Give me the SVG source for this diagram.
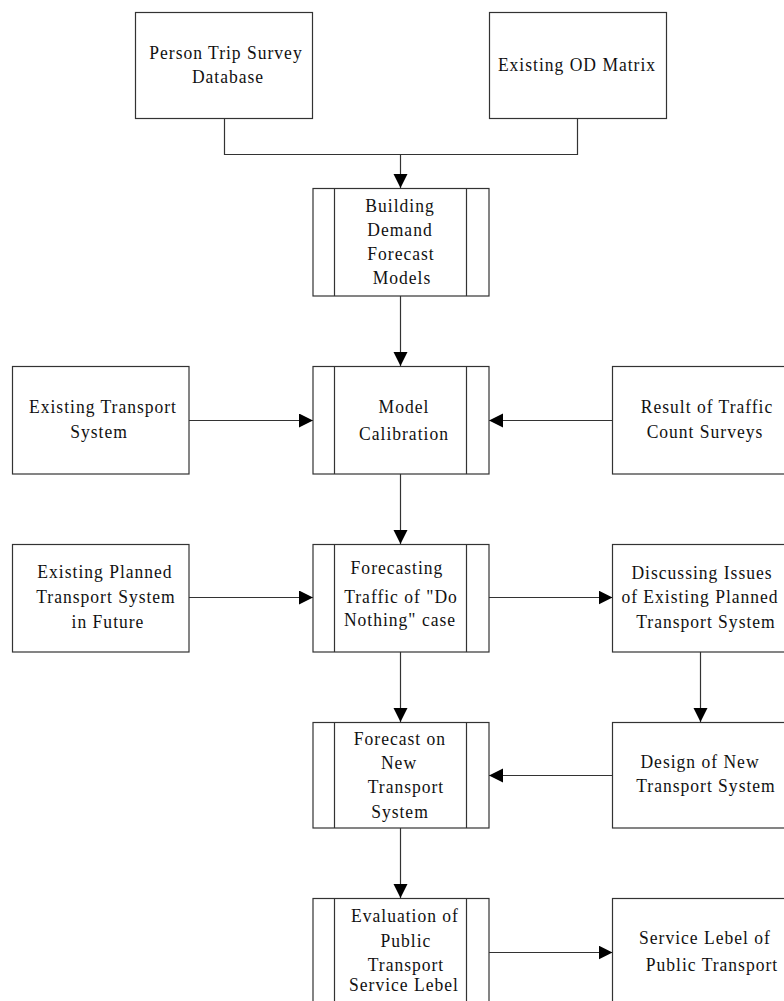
<svg xmlns="http://www.w3.org/2000/svg" width="784" height="1001" viewBox="0 0 784 1001">
<defs>
<style>
.box{fill:#fff;stroke:#333;stroke-width:1.2}
.ln{fill:none;stroke:#333;stroke-width:1.2}
.t{font-family:"Liberation Serif","Times New Roman",serif;font-size:19.5px;letter-spacing:1.1px;fill:#111;text-anchor:middle;transform-box:fill-box;transform-origin:center;transform:scaleX(0.9)}
</style>
<marker id="ah" markerUnits="userSpaceOnUse" markerWidth="15" markerHeight="15" refX="14" refY="7" orient="auto">
<path d="M0,0 L14,7 L0,14 z" fill="#000"/>
</marker>
</defs>
<rect width="784" height="1001" fill="#fff"/>

<g id="connectors">
<path class="ln" d="M224.5,118 V154.5 H577.5 V118"/>
<path class="ln" d="M400.5,154.5 V188" marker-end="url(#ah)"/>
<path class="ln" d="M400.5,296 V366" marker-end="url(#ah)"/>
<path class="ln" d="M189,420.5 H313" marker-end="url(#ah)"/>
<path class="ln" d="M612.5,420.5 H489" marker-end="url(#ah)"/>
<path class="ln" d="M400.5,474 V544" marker-end="url(#ah)"/>
<path class="ln" d="M189,597.5 H313" marker-end="url(#ah)"/>
<path class="ln" d="M489,597.5 H612.5" marker-end="url(#ah)"/>
<path class="ln" d="M400.5,652 V722" marker-end="url(#ah)"/>
<path class="ln" d="M700.5,652 V722" marker-end="url(#ah)"/>
<path class="ln" d="M612.5,775.5 H489" marker-end="url(#ah)"/>
<path class="ln" d="M400.5,828 V898" marker-end="url(#ah)"/>
<path class="ln" d="M489,952.5 H612.5" marker-end="url(#ah)"/>
</g>

<g id="n-person-trip">
<rect class="box" x="135.5" y="12.5" width="177" height="106"/>
<text class="t" x="226" y="59">Person Trip Survey</text>
<text class="t" x="228" y="83">Database</text>
</g>

<g id="n-od-matrix">
<rect class="box" x="489.5" y="12.5" width="177" height="106"/>
<text class="t" x="577" y="71">Existing OD Matrix</text>
</g>

<g id="n-building">
<rect class="box" x="313" y="188.5" width="176" height="107.5"/>
<path class="ln" d="M334.5,188.5 V296 M466.5,188.5 V296"/>
<text class="t" x="400" y="212">Building</text>
<text class="t" x="400" y="236">Demand</text>
<text class="t" x="401" y="260">Forecast</text>
<text class="t" x="402" y="284">Models</text>
</g>

<g id="n-existing-transport">
<rect class="box" x="12.5" y="366.5" width="176.5" height="107.5"/>
<text class="t" x="103" y="413">Existing Transport</text>
<text class="t" x="99" y="438">System</text>
</g>

<g id="n-model-calibration">
<rect class="box" x="313" y="366.5" width="176" height="107.5"/>
<path class="ln" d="M334.5,366.5 V474 M466.5,366.5 V474"/>
<text class="t" x="404" y="413">Model</text>
<text class="t" x="404" y="440">Calibration</text>
</g>

<g id="n-traffic-count">
<rect class="box" x="612.5" y="366.5" width="180" height="107.5"/>
<text class="t" x="707" y="413">Result of Traffic</text>
<text class="t" x="705" y="438">Count Surveys</text>
</g>

<g id="n-existing-planned">
<rect class="box" x="12.5" y="544.5" width="176.5" height="107.5"/>
<text class="t" x="105" y="578">Existing Planned</text>
<text class="t" x="106" y="603">Transport System</text>
<text class="t" x="108" y="628">in Future</text>
</g>

<g id="n-forecasting">
<rect class="box" x="313" y="544.5" width="176" height="107.5"/>
<path class="ln" d="M334.5,544.5 V652 M466.5,544.5 V652"/>
<text class="t" x="397" y="574">Forecasting</text>
<text class="t" x="401" y="603">Traffic of "Do</text>
<text class="t" x="400" y="626">Nothing" case</text>
</g>

<g id="n-discussing">
<rect class="box" x="612.5" y="544.5" width="180" height="107.5"/>
<text class="t" x="702" y="579">Discussing Issues</text>
<text class="t" x="700" y="603">of Existing Planned</text>
<text class="t" x="706" y="628">Transport System</text>
</g>

<g id="n-forecast-new">
<rect class="box" x="313" y="722.5" width="176" height="105.5"/>
<path class="ln" d="M334.5,722.5 V828 M466.5,722.5 V828"/>
<text class="t" x="400" y="745">Forecast on</text>
<text class="t" x="399" y="769">New</text>
<text class="t" x="406" y="793">Transport</text>
<text class="t" x="400" y="818">System</text>
</g>

<g id="n-design">
<rect class="box" x="612.5" y="722.5" width="180" height="105.5"/>
<text class="t" x="700" y="768">Design of New</text>
<text class="t" x="706" y="792">Transport System</text>
</g>

<g id="n-evaluation">
<rect class="box" x="313" y="898.5" width="176" height="120"/>
<path class="ln" d="M334.5,898.5 V1001 M466.5,898.5 V1001"/>
<text class="t" x="405" y="922">Evaluation of</text>
<text class="t" x="406" y="947">Public</text>
<text class="t" x="406" y="971">Transport</text>
<text class="t" x="404" y="991">Service Lebel</text>
</g>

<g id="n-service-level">
<rect class="box" x="612.5" y="898.5" width="180" height="120"/>
<text class="t" x="705" y="944">Service Lebel of</text>
<text class="t" x="712" y="971">Public Transport</text>
</g>
</svg>
